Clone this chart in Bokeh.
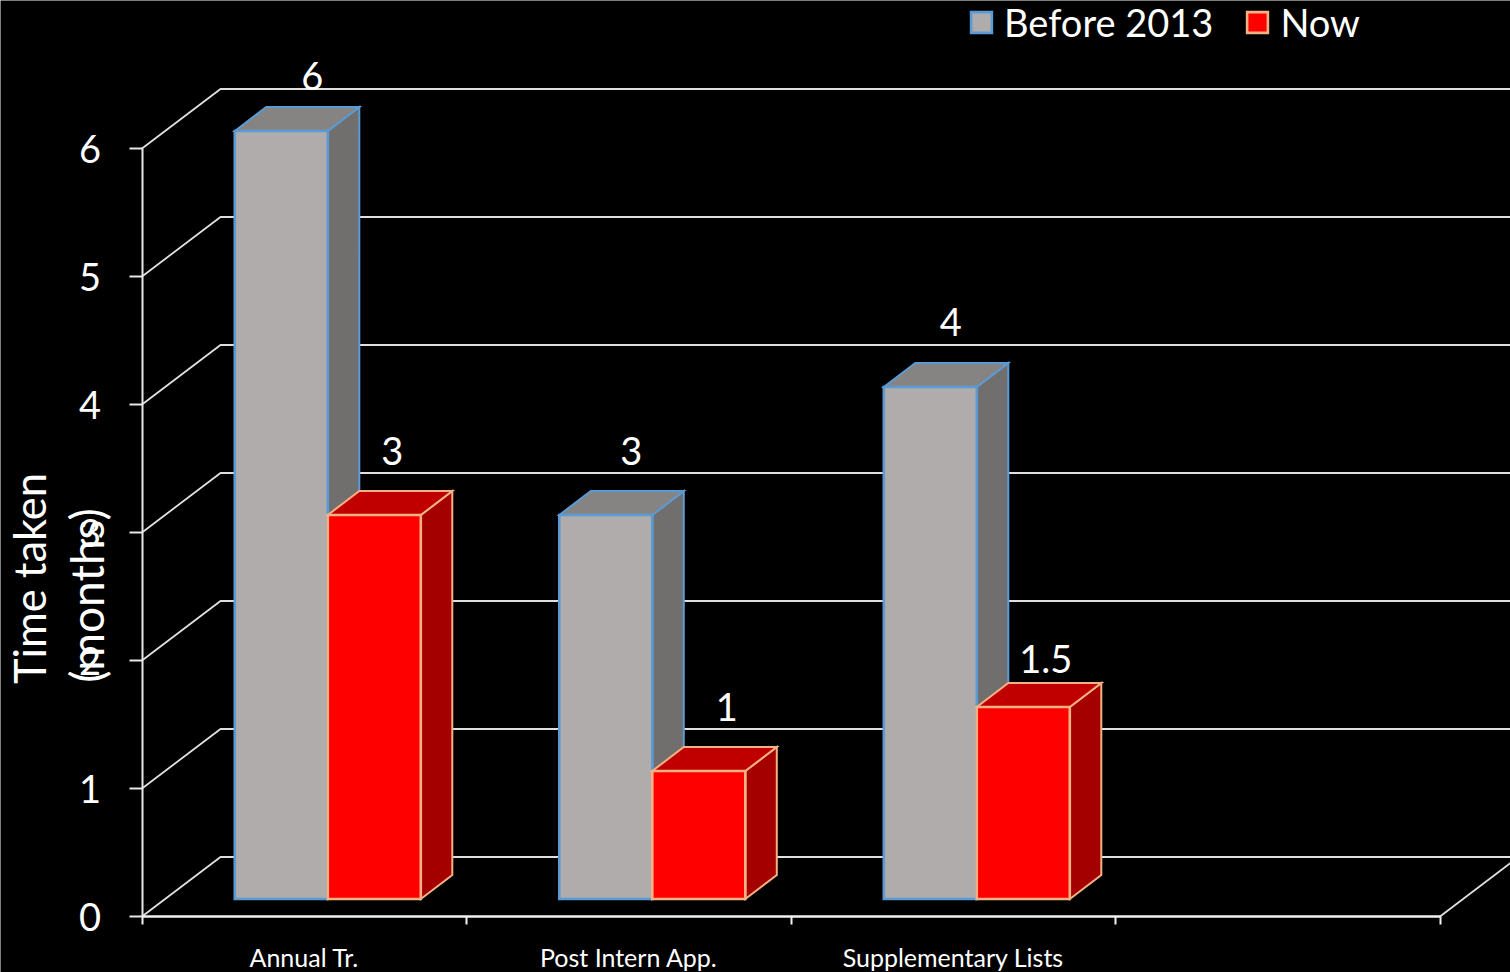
from math import pi
from bokeh.core.properties import value
from bokeh.embed import file_html
from bokeh.models import (ColumnDataSource, FixedTicker, Legend, LegendItem,
                          LinearAxis, Range1d)
from bokeh.plotting import figure
from bokeh.resources import INLINE

categories = ["Annual Tr.", "Post Intern App.", "Supplementary Lists"]
before_2013 = [6, 3, 4]
now = [3, 1, 1.5]
y_ticks = [0, 1, 2, 3, 4, 5, 6]
x_ticks = [0, 1, 2, 3, 4]

FONT = "Lato"
PX_X = 324.5      # pixels per category
PX_Y = 128.0      # pixels per month
WALL_DX, WALL_DY = 78.5 / PX_X, 59.5 / PX_Y
BAR_DX, BAR_DY = 31.5 / PX_X, 24.0 / PX_Y
BAR_BASE = 17.5 / PX_Y
BAR_START = 92.8 / PX_X
BAR_W = 93.0 / PX_X

W, H = 1510, 972
X0, Y0 = 141.5, 916.0      # where the axes cross, in pixels
x_min, x_max = -X0 / PX_X, (W - X0) / PX_X
y_min, y_max = -(H - Y0) / PX_Y, Y0 / PX_Y

p = figure(width=W, height=H, output_backend="svg", toolbar_location=None,
           x_range=Range1d(x_min, x_max), y_range=Range1d(y_min, y_max),
           x_axis_type=None, y_axis_type=None,
           min_border_left=0, min_border_right=0, min_border_top=0, min_border_bottom=0,
           background_fill_color="black", border_fill_color="black", outline_line_color=None)
p.grid.visible = False

# walls: diagonal from the axis and the horizontal back line
wx, wy = [], []
for t in y_ticks:
    wx.append([0, WALL_DX, x_max])
    wy.append([t, t + WALL_DY, t + WALL_DY])
p.multi_line(wx, wy, line_color="#e0e0e0", line_width=1.8)
p.line([x_ticks[-1], x_ticks[-1] + WALL_DX], [0, WALL_DY], line_color="#e0e0e0", line_width=1.8)


def bars(values, offset, front, top, side, edge):
    xl = [i + BAR_START + offset for i in range(len(values))]
    xr = [x + BAR_W for x in xl]
    yt = [v + BAR_BASE for v in values]
    yb = [BAR_BASE] * len(values)
    p.patches([[r, r + BAR_DX, r + BAR_DX, r] for r in xr],
              [[b, b + BAR_DY, t + BAR_DY, t] for b, t in zip(yb, yt)],
              fill_color=side, line_color=edge, line_width=2, line_join="miter")
    p.patches([[l, l + BAR_DX, r + BAR_DX, r] for l, r in zip(xl, xr)],
              [[t, t + BAR_DY, t + BAR_DY, t] for t in yt],
              fill_color=top, line_color=edge, line_width=2, line_join="miter")
    return p.quad(left=xl, right=xr, bottom=yb, top=yt, fill_color=front,
                  line_color=edge, line_width=2.6, line_join="miter")


r1 = bars(before_2013, 0, "#b0acab", "#868483", "#716f6e", "#5b9bd5")
r2 = bars(now, BAR_W, "#ff0000", "#c00000", "#a50000", "#f4b183")

# data labels
lab_dx = [31, 25.5, 20.5, 18, 28, 22.5]
lab_dy = [-55.5, -64.5, -65.5, -64.5, -64.5, -48.5]
vals = before_2013 + now
n = len(categories)
lab_x = [i + BAR_START + BAR_W * (0.5 + s) for s in (0, 1) for i in range(n)]
lab_y = [v + BAR_BASE for v in vals]
lab_t = [f"{v:g}" for v in vals]
src = ColumnDataSource(dict(x=lab_x, y=lab_y, t=lab_t, dx=lab_dx, dy=lab_dy))
p.text("x", "y", text="t", x_offset="dx", y_offset="dy", source=src, text_color="white",
       text_font=value(FONT), text_font_size="38px", text_align="center", text_baseline="middle")

# axes
ya = LinearAxis(ticker=FixedTicker(ticks=y_ticks), fixed_location=0, bounds=(y_ticks[0], y_ticks[-1]),
                axis_line_color="#e8e8e8", axis_line_width=2,
                major_tick_line_color="#e8e8e8", major_tick_line_width=2, major_tick_in=0, major_tick_out=13,
                minor_tick_line_color=None, major_label_standoff=28,
                major_label_text_color="white", major_label_text_font=FONT,
                major_label_text_font_size="38px")
p.add_layout(ya, "left")
xa = LinearAxis(ticker=FixedTicker(ticks=[i + 0.5 for i in range(n)], minor_ticks=x_ticks), fixed_location=0,
                bounds=(x_ticks[0], x_ticks[-1]),
                major_label_overrides={i + 0.5: c for i, c in enumerate(categories)},
                axis_line_color="#f2f2f2", axis_line_width=2.4,
                major_tick_line_color=None, major_tick_in=0, major_tick_out=0,
                minor_tick_line_color="#f2f2f2", minor_tick_line_width=2, minor_tick_in=0, minor_tick_out=8,
                major_label_standoff=17, major_label_text_color="white", major_label_text_font=FONT,
                major_label_text_font_size="25px")
p.add_layout(xa, "below")

# axis title (two rotated lines)
for txt, px_x, px_y, size in (("Time taken", 28, 578, "43.5px"), ("(months)", 86, 595, "46px")):
    p.text([(px_x - X0) / PX_X], [(Y0 - px_y) / PX_Y], text=[txt], angle=pi / 2, text_color="white",
           text_font=value(FONT), text_font_size=size, text_align="center", text_baseline="middle")

legend = Legend(items=[LegendItem(label="Before 2013", renderers=[r1]), LegendItem(label="Now", renderers=[r2])],
                orientation="horizontal", location=(968, 927), background_fill_alpha=0, border_line_color=None,
                padding=0, margin=0, spacing=31, glyph_width=26, glyph_height=26, label_standoff=10,
                label_text_color="white", label_text_font=FONT, label_text_font_size="38px",
                label_text_baseline="middle")
p.add_layout(legend, "center")

open("out.html", "w").write(file_html(p, INLINE))
